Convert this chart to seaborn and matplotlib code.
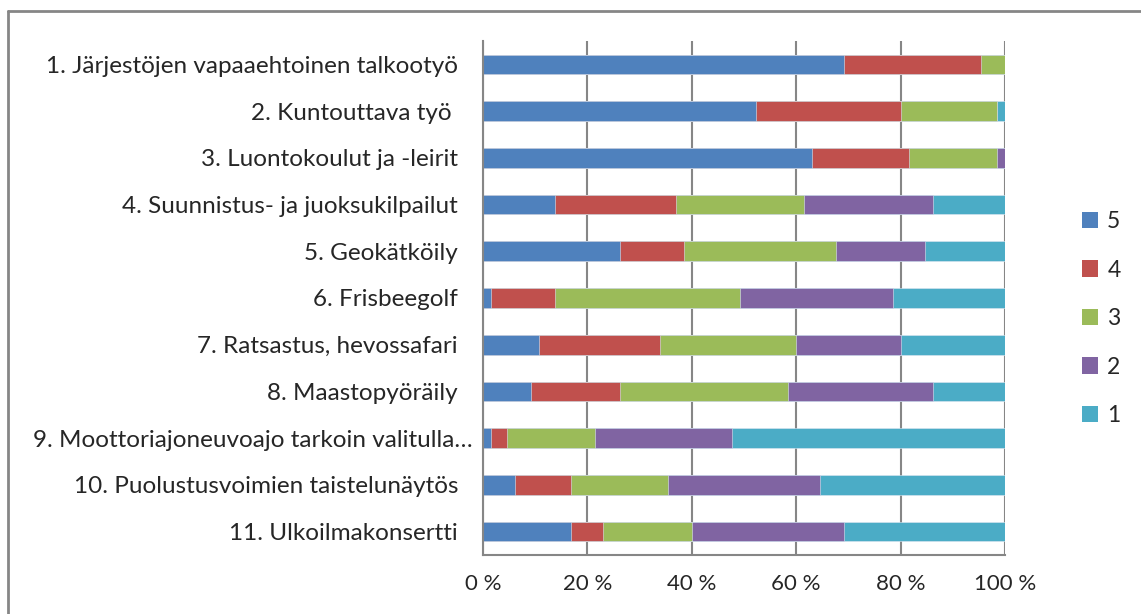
import numpy as np
import pandas as pd
import matplotlib
matplotlib.use("Agg")
import matplotlib.pyplot as plt
import matplotlib.transforms as mtransforms
from matplotlib.patches import Patch
from matplotlib.lines import Line2D
import seaborn as sns

CATEGORIES = [
    "1. Järjestöjen vapaaehtoinen talkootyö",
    "2. Kuntouttava työ ",
    "3. Luontokoulut ja -leirit",
    "4. Suunnistus- ja juoksukilpailut",
    "5. Geokätköily",
    "6. Frisbeegolf",
    "7. Ratsastus, hevossafari",
    "8. Maastopyöräily",
    "9. Moottoriajoneuvoajo tarkoin valitulla…",
    "10. Puolustusvoimien taistelunäytös",
    "11. Ulkoilmakonsertti",
]
# answer counts per rating (5 = best)
R5 = [45, 34, 41, 9, 17, 1, 7, 6, 1, 4, 11]
R4 = [17, 18, 12, 15, 8, 8, 15, 11, 2, 7, 4]
R3 = [3, 12, 11, 16, 19, 23, 17, 21, 11, 12, 11]
R2 = [0, 0, 1, 16, 11, 19, 13, 18, 17, 19, 19]
R1 = [0, 1, 0, 9, 10, 14, 13, 9, 34, 23, 20]
SERIES = ["5", "4", "3", "2", "1"]
COLORS = ["#4F81BD", "#C0504D", "#9BBB59", "#8064A2", "#4BACC6"]

sns.set_style("white")
plt.rcParams["font.family"] = ["Lato", "DejaVu Sans"]

df = pd.DataFrame({"5": R5, "4": R4, "3": R3, "2": R2, "1": R1}, index=CATEGORIES)
pct = df.div(df.sum(axis=1), axis=0) * 100
cum = pct.cumsum(axis=1)

fig = plt.figure(figsize=(11.41, 6.14), dpi=100)
W, H = 1141, 614
ax = fig.add_axes([483 / W, 1 - 555 / H, (1005 - 483) / W, (555 - 41) / H])

# draw from the full stack down so each segment shows on top of the next
for s, c in reversed(list(zip(SERIES, COLORS))):
    sns.barplot(x=cum[s].values, y=list(range(len(CATEGORIES))), orient="h",
                color=c, width=0.42, ax=ax, saturation=1,
                edgecolor="#dce6f2", linewidth=0.4, native_scale=True)

ax.set_xlim(0, 100)
ax.set_ylim(len(CATEGORIES) - 0.5, -0.5)
ax.set_xticks(np.arange(0, 101, 20))
ax.set_xticklabels([f"{v} %" for v in range(0, 101, 20)], fontsize=16)
ax.set_yticks(np.arange(len(CATEGORIES) + 1) - 0.5)
ax.set_yticklabels([])
ax.set_yticks(np.arange(len(CATEGORIES)), minor=True)
ax.set_yticklabels(CATEGORIES, minor=True, fontsize=17.5)
ax.tick_params(axis="y", which="minor", length=0, pad=18)
ax.tick_params(axis="y", which="major", length=5.5, width=1.5, color="#868686", direction="out")
ax.tick_params(axis="x", length=6, width=1.5, color="#868686", direction="out", pad=8)
ax.set_xlabel("")
ax.set_ylabel("")
ax.grid(axis="x", color="#868686", linewidth=1.5)
ax.set_axisbelow(True)
for side in ["top", "right"]:
    ax.spines[side].set_visible(False)
for side in ["left", "bottom"]:
    ax.spines[side].set_color("#868686")
    ax.spines[side].set_linewidth(1.5)

# the truncated ninth label sits closer to the axis
lbl = ax.get_yticklabels(minor=True)[8]
lbl.set_transform(lbl.get_transform() + mtransforms.ScaledTranslation(15 / 100, 0, fig.dpi_scale_trans))

handles = [Patch(facecolor=c, edgecolor="none") for c in COLORS]
fig.legend(handles, SERIES, loc="upper left", bbox_to_anchor=(1066 / W, 1 - 195 / H),
           frameon=False, fontsize=16.5, handlelength=0.7, handleheight=0.7,
           handletextpad=0.4, labelspacing=1.2, borderpad=0.2)

# outer chart frame (clipped at right and bottom)
fig.add_artist(Line2D([8 / W, 1], [1 - 11 / H, 1 - 11 / H], color="#868686", linewidth=2))
fig.add_artist(Line2D([8 / W, 8 / W], [0, 1 - 11 / H], color="#868686", linewidth=2))

fig.savefig("out.png", dpi=100)
